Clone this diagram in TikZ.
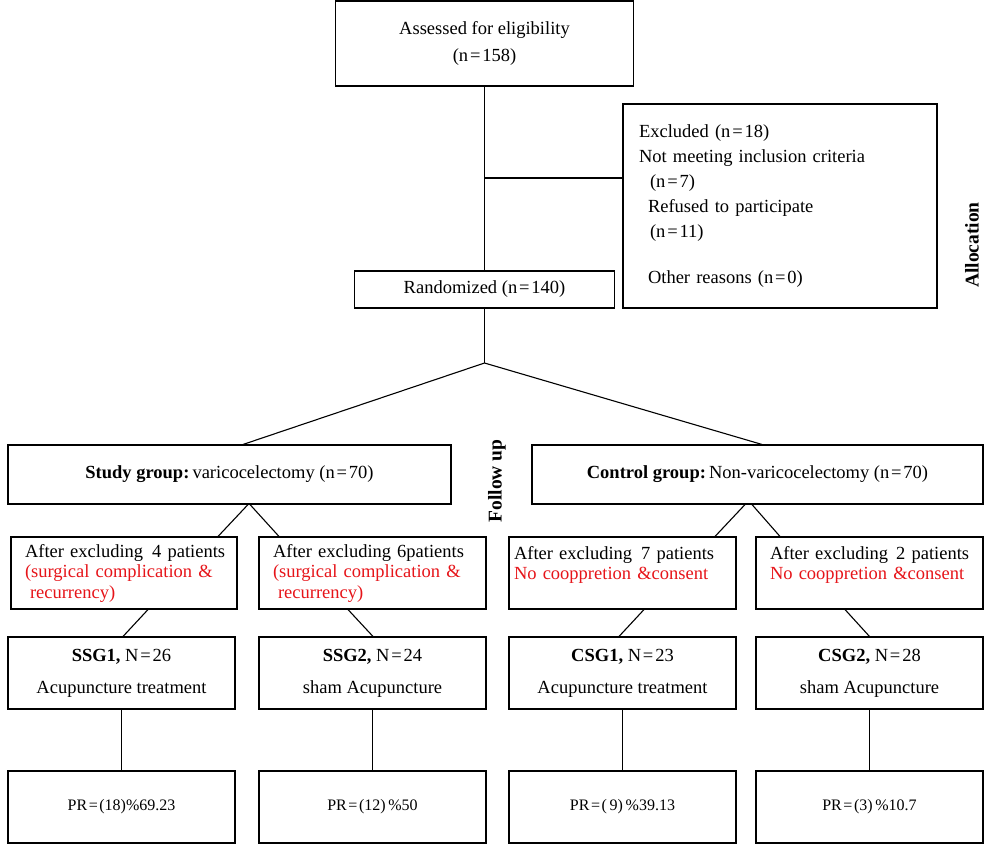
\documentclass[tikz,border=0pt]{standalone}
\usepackage{fontspec}
\setmainfont{Liberation Serif}
\usetikzlibrary{calc}
\definecolor{exred}{RGB}{230,20,25}
\newcommand{\eqs}{\kern0.1em=\kern0.1em}
\begin{document}
\begin{tikzpicture}[x=1pt,y=-1pt,
  every node/.style={font=\fontsize{18.5}{21}\selectfont},
  box/.style={draw, line width=1.1pt, inner sep=0pt, align=center},
  midbox/.style={box, minimum width=227pt, minimum height=72pt, font=\fontsize{18.5}{32}\selectfont},
  prbox/.style={box, minimum width=227pt, minimum height=72pt, font=\fontsize{16}{20}\selectfont},
  exbox/.style={box, minimum height=72pt, align=left, inner xsep=14pt, text width=199pt, font=\fontsize{18.5}{20.5}\selectfont},
  lnk/.style={line width=1.1pt},
  sidelabel/.style={rotate=90, font=\bfseries\fontsize{19.5}{20}\selectfont}]
\useasboundingbox (0,0) rectangle (1000,844);

% top part
\node[box, minimum width=298pt, minimum height=85pt, font=\fontsize{18.5}{27}\selectfont] (top) at (484.5,43.5) {Assessed for eligibility\\(n\eqs158)};
\node[box, minimum width=314pt, minimum height=204pt, text width=282pt, inner xsep=16pt, align=left, font=\fontsize{18.5}{25}\selectfont] (excl) at (780,206)
  {Excluded (n\eqs18)\\
   Not meeting inclusion criteria\\
   \hspace*{11pt}(n\eqs7)\\
   \hspace*{9pt}Refused to participate\\
   \hspace*{11pt}(n\eqs11)\\[21pt]
   \hspace*{9pt}Other reasons (n\eqs0)};
\node[box, minimum width=260pt, minimum height=37pt] (rand) at (484.5,289.5) {Randomized (n\eqs140)};

% groups
\node[box, minimum width=443pt, minimum height=59pt] (study) at (229.5,474.5) {\textbf{Study group:}\,varicocelectomy (n\eqs70)};
\node[box, minimum width=451pt, minimum height=59pt] (control) at (757.5,474.5) {\textbf{Control group:}\,Non-varicocelectomy (n\eqs70)};

% exclusion boxes
\node[exbox, text width=198pt] (exA) at (124,573)
  {\mbox{After excluding\hspace*{9pt}4 patients}\\
   \mbox{\textcolor{exred}{(surgical complication \&}}\\
   \mbox{\textcolor{exred}{\hspace*{5pt}recurrency)}}};
\node[exbox] (exB) at (372.5,573)
  {\mbox{After excluding\hspace*{6pt}6patients}\\
   \mbox{\textcolor{exred}{(surgical complication \&}}\\
   \mbox{\textcolor{exred}{\hspace*{5pt}recurrency)}}};
\node[exbox, inner xsep=5pt, text width=217pt] (exC) at (622.5,573)
  {\mbox{After excluding\hspace*{9pt}7 patients}\\
   \mbox{\textcolor{exred}{No cooppretion \&consent}}\\ \mbox{}};
\node[exbox] (exD) at (869.5,573)
  {\mbox{After excluding\hspace*{8pt}2 patients}\\
   \mbox{\textcolor{exred}{No cooppretion \&consent}}\\ \mbox{}};

% subgroups
\node[midbox] (ssg1) at (121.5,673) {\textbf{SSG1,} N\eqs26\\Acupuncture treatment};
\node[midbox] (ssg2) at (372.5,673) {\textbf{SSG2,} N\eqs24\\sham Acupuncture};
\node[midbox] (csg1) at (622.5,673) {\textbf{CSG1,} N\eqs23\\Acupuncture treatment};
\node[midbox] (csg2) at (869.5,673) {\textbf{CSG2,} N\eqs28\\sham Acupuncture};

% results
\node[prbox] (pr1) at (121.5,807) {PR\eqs(18)\%69.23};
\node[prbox] (pr2) at (372.5,807) {PR\eqs(12)\,\%50};
\node[prbox] (pr3) at (622.5,807) {PR\eqs(\,9)\,\%39.13};
\node[prbox] (pr4) at (869.5,807) {PR\eqs(3)\,\%10.7};

% side labels
\node[sidelabel] (fu) at (497,481) {Follow up};
\node[sidelabel] (al) at (972,245) {Allocation};

% connectors
\coordinate (jn) at (484.5,178);
\coordinate (br) at (484.5,363);
\draw[lnk] (top.south) -- (rand.north);
\draw[lnk] (jn) -- (jn -| excl.west);
\draw[lnk] (rand.south) -- (br);
\draw[lnk] ([xshift=13.5pt]study.north) -- (br) -- ([xshift=4.5pt]control.north);

\draw[lnk] ([xshift=18.5pt]study.south) -- ([xshift=94pt]exA.north);
\draw[lnk] ([xshift=20.5pt]study.south) -- ([xshift=-93.5pt]exB.north);
\draw[lnk] ([xshift=-12.5pt]control.south) -- ([xshift=92.5pt]exC.north);
\draw[lnk] ([xshift=-5.5pt]control.south) -- ([xshift=-89.5pt]exD.north);

\draw[lnk] ([xshift=24pt]exA.south) -- ([xshift=1.5pt]ssg1.north);
\draw[lnk] ([xshift=-24.5pt]exB.south) -- ([xshift=0.5pt]ssg2.north);
\draw[lnk] ([xshift=21.5pt]exC.south) -- ([xshift=-3.5pt]csg1.north);
\draw[lnk] ([xshift=-24.5pt]exD.south) -- (csg2.north);

\draw[lnk] (ssg1.south) -- (pr1.north);
\draw[lnk] (ssg2.south) -- (pr2.north);
\draw[lnk] (csg1.south) -- (pr3.north);
\draw[lnk] (csg2.south) -- (pr4.north);
\end{tikzpicture}
\end{document}
